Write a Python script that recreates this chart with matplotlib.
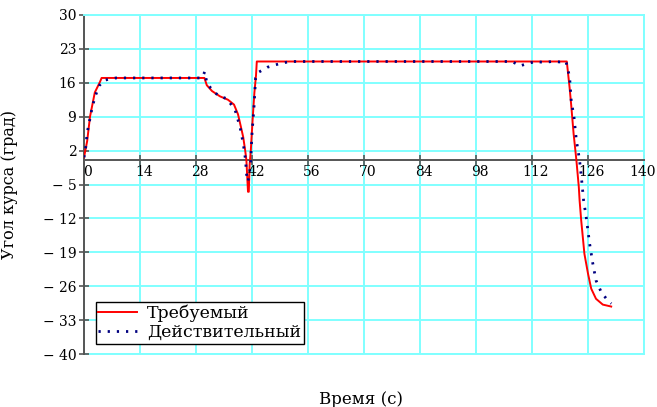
import matplotlib
matplotlib.use("Agg")
import matplotlib.pyplot as plt
from matplotlib.transforms import ScaledTranslation

# Mathcad-style look
plt.rcParams['font.family'] = ['DejaVu Serif']

# required heading (red)
t_req = [0, 0.8, 1.5, 2.7, 4.0, 4.4, 30.1, 30.7, 32, 34, 36, 37.5, 38.5, 39.2, 39.8, 40.3, 40.6,
         41.0, 41.2, 41.4, 41.7, 42.2, 42.6, 43.0, 43.2, 120.7, 121.4, 121.8, 122.4, 123.1,
         123.7, 123.9, 124.3, 125.1, 126.0, 126.8, 128.0, 129.7, 131.8]
v_req = [0.6, 4, 9, 14, 16.2, 17, 17, 15.5, 14.3, 13.2, 12.5, 11.5, 9.5, 7, 4.8, 2, 0,
         -6.5, -6.5, -1, 2, 9, 14, 17.5, 20.4, 20.4, 15, 11.4, 5.5, 0,
         -5.5, -8.3, -12.4, -19.3, -23.4, -26.5, -28.6, -29.8, -30.2]

# actual heading (blue dotted)
t_act = [0, 0.5, 0.75, 1.3, 1.9, 2.7, 3.8, 5.0, 6.5, 8, 29.5, 30.2, 30.7, 31.6, 33.6, 35.8,
         37.8, 39.0, 39.8, 40.4, 40.6, 41.0, 41.6, 42.0, 42.5, 42.9, 43.7, 45.8, 49.1, 51.6,
         107, 109, 111, 113, 115, 117, 119, 120.5, 121.0, 121.4, 121.8, 122.5, 123.1, 123.9,
         124.5, 124.9, 125.6, 126.4, 127.2, 128.0, 129.3, 130.6, 131.8]
v_act = [0.6, 3, 5.5, 7.8, 10.3, 13, 15.4, 16.5, 16.8, 17, 17, 18.3, 16, 15, 13.3, 12.7,
         10.3, 6.9, 3.5, 0, -2.7, -4.4, -1.4, 5.5, 11, 17, 18.2, 19.2, 20, 20.4,
         20.4, 19.5, 20.0, 20.4, 20.2, 20.4, 20.3, 20.4, 18.6, 17.2, 12.4, 8.9, 4.1, 0,
         -4.8, -8.3, -12, -17.2, -21.3, -24.8, -27.2, -28.6, -29.6]

x_ticks = list(range(0, 141, 14))
y_ticks = list(range(-40, 31, 7))

fig = plt.figure(figsize=(6.57, 4.07), dpi=100)
ax = fig.add_axes([84 / 657, 1 - 354 / 407, 560 / 657, 339 / 407])

grid_c = '#80ffff'
axis_c = '#555555'

ax.plot(t_req, v_req, color='red', lw=1.4, label='Требуемый', zorder=3)
ax.plot(t_act, v_act, color='#000080', lw=2.0, linestyle=(0, (0.8, 2.5)),
        dash_capstyle='butt', label='Действительный', zorder=4)

ax.set_xlim(0, 140)
ax.set_ylim(-40, 30)
ax.set_xticks(x_ticks)
ax.set_yticks(y_ticks)
ax.set_yticklabels([str(v) if v >= 0 else '\u2212 ' + str(-v) for v in y_ticks], fontsize=10)
ax.set_xticklabels([])
ax.grid(True, color=grid_c, lw=1.4, zorder=0)

# x axis drawn through y = 0, labels a little right of the ticks
ax.spines['bottom'].set_position(('data', 0))
for side in ['bottom', 'left']:
    ax.spines[side].set_color(axis_c)
    ax.spines[side].set_linewidth(1.4)
for side in ['top', 'right']:
    ax.spines[side].set_color(grid_c)
    ax.spines[side].set_linewidth(1.4)
ax.axhline(-40, color=grid_c, lw=1.4, clip_on=False, zorder=0)
ax.tick_params(direction='inout', length=7, width=1.2, color=axis_c, pad=2)

for xv in x_ticks:
    dx = 4 if xv < x_ticks[-1] else -1
    off = ax.transData + ScaledTranslation(dx / 100, -5 / 100, fig.dpi_scale_trans)
    ax.text(xv, 0, str(xv), transform=off, ha='center', va='top', fontsize=10, zorder=5)

ax.set_ylabel('Угол курса (град)', fontsize=11.5)
ax.yaxis.set_label_coords(-0.118, 0.5)
ax.set_xlabel('Время (с)', fontsize=12)
ax.xaxis.set_label_coords(0.495, -0.11)

leg = ax.legend(loc='lower left', bbox_to_anchor=(0.021, 0.03), fontsize=12.5, frameon=True,
                fancybox=False, framealpha=1, edgecolor='black', handlelength=2.2,
                borderpad=0.15, labelspacing=0.15, handletextpad=0.6, borderaxespad=0)
leg.get_frame().set_linewidth(1.0)

fig.savefig('out.png', dpi=100)
